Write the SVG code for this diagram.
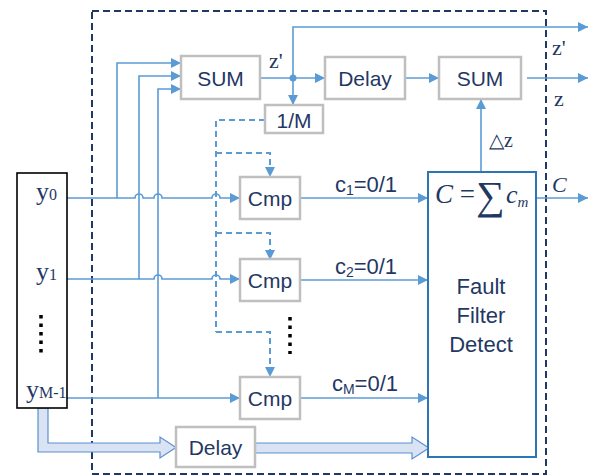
<svg xmlns="http://www.w3.org/2000/svg" width="598" height="476" viewBox="0 0 598 476">
<style>
.box{fill:#fff;stroke:#bfbfbf;stroke-width:2.5}
.lbl{font-family:"Liberation Sans",Arial,sans-serif;font-size:21px;fill:#1f3864;text-anchor:middle}
.ser{font-family:"Liberation Serif","Times New Roman",serif;fill:#1f3864}
.ln{fill:none;stroke:#5b9bd5;stroke-width:1.6}
.dsh{fill:none;stroke:#5b9bd5;stroke-width:2;stroke-dasharray:6 4}
.fat{fill:#dae3f3;stroke:#5b8fcf;stroke-width:1.2}
</style>
<defs>
<marker id="ah" viewBox="0 0 10 10" refX="10" refY="5" markerWidth="11" markerHeight="10" markerUnits="userSpaceOnUse" orient="auto">
<path d="M0,0 L10,5 L0,10 z" fill="#5b9bd5"/>
</marker>
</defs>
<rect width="598" height="476" fill="#fff"/>
<rect id="boundary" x="92" y="11" width="454" height="463" fill="none" stroke="#203864" stroke-width="2" stroke-dasharray="7 4"/>

<g id="connectors">
<path class="ln" d="M67,198 H135 a4,4 0 0 1 8,0 H154 a4,4 0 0 1 8,0 H212 a4,4 0 0 1 8,0 H240" marker-end="url(#ah)"/>
<path class="ln" d="M67,279 H154 a4,4 0 0 1 8,0 H212 a4,4 0 0 1 8,0 H240" marker-end="url(#ah)"/>
<path class="ln" d="M67,398 H240" marker-end="url(#ah)"/>
<path class="ln" d="M117,198 V63 H181" marker-end="url(#ah)"/>
<path class="ln" d="M139,279 V76 H181" marker-end="url(#ah)"/>
<path class="ln" d="M158,398 V89 H181" marker-end="url(#ah)"/>
<path class="ln" d="M260,78 H325" marker-end="url(#ah)"/>
<circle cx="293" cy="78" r="3.5" fill="#5b9bd5"/>
<path class="ln" d="M293,78 V27 H588" marker-end="url(#ah)"/>
<path class="ln" d="M293,78 V105" marker-end="url(#ah)"/>
<path class="ln" d="M405,78 H439" marker-end="url(#ah)"/>
<path class="ln" d="M527,78 H588" marker-end="url(#ah)"/>
<path class="ln" d="M481,172 V99" marker-end="url(#ah)"/>
<path class="ln" d="M536,198 H588" marker-end="url(#ah)"/>
<path class="ln" d="M300,198 H428" marker-end="url(#ah)"/>
<path class="ln" d="M300,280 H428" marker-end="url(#ah)"/>
<path class="ln" d="M300,398 H428" marker-end="url(#ah)"/>
<path class="dsh" d="M265,120 H216 V332"/>
<path class="dsh" d="M216,153 H270 V177" marker-end="url(#ah)"/>
<path class="dsh" d="M216,233 H270 V260" marker-end="url(#ah)"/>
<path class="dsh" d="M216,332 H270 V377" marker-end="url(#ah)"/>
<path class="fat" d="M38,408 V452 H160 V458 L176,447.5 L160,437 V443 H48 V408 Z"/>
<path class="fat" d="M255,443 H412 V437 L429,448 L412,459 V453 H255 Z"/>
</g>

<g id="inputs">
<rect x="17" y="173" width="50" height="235" fill="#fff" stroke="#000" stroke-width="1.6"/>
<text class="ser" x="36" y="200" font-size="26">y<tspan font-size="16">0</tspan></text>
<text class="ser" x="36" y="280" font-size="26">y<tspan font-size="16">1</tspan></text>
<line x1="41" y1="315" x2="41" y2="354" stroke="#000" stroke-width="3.5" stroke-dasharray="3.5 5"/>
<text class="ser" x="26" y="398" font-size="26">y<tspan font-size="16">M-1</tspan></text>
</g>

<g id="sum1"><rect class="box" x="181" y="56" width="79" height="43"/><text class="lbl" x="220.5" y="85.5">SUM</text></g>
<text class="ser" x="269" y="68" font-size="22">z'</text>
<g id="inv-m"><rect class="box" x="265" y="105" width="58" height="28"/><text class="lbl" x="294" y="127.5">1/M</text></g>
<g id="delay1"><rect class="box" x="325" y="57" width="80" height="42"/><text class="lbl" x="365" y="85.5">Delay</text></g>
<g id="sum2"><rect class="box" x="439" y="57" width="82" height="42"/><text class="lbl" x="480" y="85.5">SUM</text></g>
<text class="ser" x="552" y="55" font-size="22">z'</text>
<text class="ser" x="554" y="106" font-size="22">z</text>
<text class="ser" x="489" y="147" font-size="20">△z</text>

<g id="cmp1"><rect class="box" x="240" y="177" width="60" height="42"/><text class="lbl" x="270" y="205.5">Cmp</text></g>
<g id="cmp2"><rect class="box" x="240" y="259" width="60" height="42"/><text class="lbl" x="270" y="287.5">Cmp</text></g>
<line x1="290" y1="317" x2="290" y2="354" stroke="#000" stroke-width="3.5" stroke-dasharray="3.5 5"/>
<g id="cmp3"><rect class="box" x="240" y="377" width="60" height="42"/><text class="lbl" x="270" y="405.5">Cmp</text></g>

<text class="lbl" x="366" y="192" style="font-size:22px">c<tspan font-size="14" dy="3">1</tspan><tspan dy="-3">=0/1</tspan></text>
<text class="lbl" x="366" y="274" style="font-size:22px">c<tspan font-size="14" dy="3">2</tspan><tspan dy="-3">=0/1</tspan></text>
<text class="lbl" x="365" y="391" style="font-size:22px">c<tspan font-size="14" dy="3">M</tspan><tspan dy="-3">=0/1</tspan></text>

<g id="fault">
<rect x="428" y="172" width="108" height="285" fill="#fff" stroke="#2e75b6" stroke-width="2"/>
<text class="ser" x="435" y="203" font-size="27"><tspan font-style="italic">C</tspan> = </text>
<text class="ser" x="476" y="209" font-size="40">∑</text>
<text class="ser" x="506" y="203" font-size="26" font-style="italic">c<tspan font-size="15" dy="4">m</tspan></text>
<text class="lbl" x="481" y="294" style="font-size:22px">Fault</text>
<text class="lbl" x="481" y="323" style="font-size:22px">Filter</text>
<text class="lbl" x="481" y="352" style="font-size:22px">Detect</text>
</g>
<text class="ser" x="552" y="192" font-size="22" font-style="italic">C</text>

<g id="delay2"><rect class="box" x="176" y="427" width="79" height="40"/><text class="lbl" x="215.5" y="454.5">Delay</text></g>
</svg>
